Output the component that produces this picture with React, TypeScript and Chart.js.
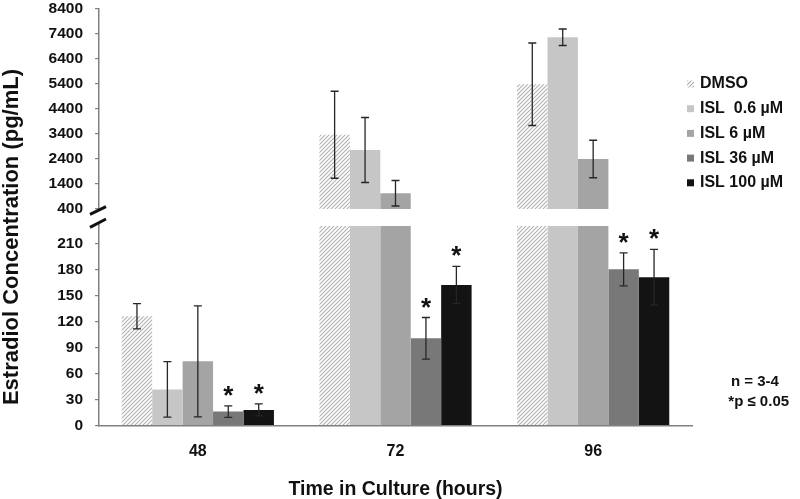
import { useEffect, useRef } from 'react';
import { Chart, registerables } from 'chart.js';

Chart.register(...registerables);

const FONT = 'Liberation Sans, Arial, Helvetica, sans-serif';

const categories = ['48', '72', '96'];
const seriesNames = ['DMSO', 'ISL  0.6 µM', 'ISL 6 µM', 'ISL 36 µM', 'ISL 100 µM'];
const seriesColors = ['hatch', '#c6c6c6', '#a4a4a4', '#787878', '#131313'];

const dmsoValues = [126, 3370, 5390];
const dmsoErrors = [14.5, 1740, 1650];
const isl06Values = [41.6, 2760, 7270];
const isl06Errors = [32, 1300, 330];
const isl6Values = [74, 1030, 2400];
const isl6Errors = [64, 510, 750];
const isl36Values = [16, 100.5, 180];
const isl36Errors = [6.7, 24, 19];
const isl100Values = [18, 162, 171];
const isl100Errors = [7, 21.5, 32];

const dmsoSig = [false, false, false];
const isl06Sig = [false, false, false];
const isl6Sig = [false, false, false];
const isl36Sig = [true, true, true];
const isl100Sig = [true, true, true];

const upperTicks = [400, 1400, 2400, 3400, 4400, 5400, 6400, 7400, 8400];
const lowerTicks = [0, 30, 60, 90, 120, 150, 180, 210];

const UPPER_BASE = 400;
const UPPER_MIN = -280;
const UPPER_MAX = 8400;
const LOWER_MAX = 230;

const allValues = [dmsoValues, isl06Values, isl6Values, isl36Values, isl100Values];
const allErrors = [dmsoErrors, isl06Errors, isl6Errors, isl36Errors, isl100Errors];
const allSig = [dmsoSig, isl06Sig, isl6Sig, isl36Sig, isl100Sig];

function makeHatch(): CanvasPattern | string {
  const c = document.createElement('canvas');
  c.width = 4;
  c.height = 4;
  const g = c.getContext('2d');
  if (!g) return '#ddd';
  g.fillStyle = '#ffffff';
  g.fillRect(0, 0, 4, 4);
  g.strokeStyle = '#b0b0b0';
  g.lineWidth = 1.1;
  g.beginPath();
  g.moveTo(-1, 5);
  g.lineTo(5, -1);
  g.moveTo(-1, 1);
  g.lineTo(1, -1);
  g.moveTo(3, 5);
  g.lineTo(5, 3);
  g.stroke();
  return g.createPattern(c, 'repeat') || '#ddd';
}

export default function App() {
  const ref = useRef<HTMLCanvasElement | null>(null);

  useEffect(() => {
    if (!ref.current) return;
    const hatch = makeHatch();
    const fills = seriesColors.map((c) => (c === 'hatch' ? hatch : c));

    const datasets: any[] = [];
    allValues.forEach((vals, i) => {
      datasets.push({
        label: seriesNames[i],
        data: vals.map((v) => [0, Math.min(v, LOWER_MAX)]),
        yAxisID: 'yLow',
        stack: 's' + i,
        backgroundColor: fills[i],
        borderWidth: 0,
      });
    });
    allValues.forEach((vals, i) => {
      datasets.push({
        label: seriesNames[i] + ' (upper)',
        data: vals.map((v) => (v >= UPPER_BASE ? [UPPER_BASE, v] : null)),
        yAxisID: 'yHigh',
        stack: 's' + i,
        backgroundColor: fills[i],
        borderWidth: 0,
      });
    });

    const overlay = {
      id: 'overlay',
      afterDatasetsDraw(chart: any) {
        const ctx = chart.ctx as CanvasRenderingContext2D;
        const yLow = chart.scales.yLow;
        const yHigh = chart.scales.yHigh;
        ctx.save();
        allValues.forEach((vals, i) => {
          const meta = chart.getDatasetMeta(i);
          vals.forEach((v, j) => {
            const el = meta.data[j];
            if (!el) return;
            const x = el.x;
            const scale = v >= UPPER_BASE ? yHigh : yLow;
            const e = allErrors[i][j];
            const yTop = scale.getPixelForValue(v + e);
            const yBot = scale.getPixelForValue(v - e);
            ctx.strokeStyle = '#262626';
            ctx.lineWidth = 1.3;
            ctx.beginPath();
            ctx.moveTo(x, yTop);
            ctx.lineTo(x, yBot);
            ctx.moveTo(x - 4, yTop);
            ctx.lineTo(x + 4, yTop);
            ctx.moveTo(x - 4, yBot);
            ctx.lineTo(x + 4, yBot);
            ctx.stroke();
            if (allSig[i][j]) {
              ctx.fillStyle = '#111';
              ctx.font = `bold 26px ${FONT}`;
              ctx.textAlign = 'center';
              ctx.textBaseline = 'alphabetic';
              ctx.fillText('*', x, yTop - 2);
            }
          });
        });
        ctx.restore();
      },
      afterDraw(chart: any) {
        const ctx = chart.ctx as CanvasRenderingContext2D;
        const left = chart.chartArea.left;
        const yB = chart.scales.yHigh.getPixelForValue(UPPER_BASE);
        ctx.save();
        // axis break
        ctx.fillStyle = '#ffffff';
        ctx.fillRect(left - 3, yB + 2, 6, 11);
        ctx.strokeStyle = '#111';
        ctx.lineWidth = 3;
        ctx.beginPath();
        ctx.moveTo(left - 9, yB + 5.3);
        ctx.lineTo(left + 7, yB - 2.3);
        ctx.moveTo(left - 9, yB + 18.3);
        ctx.lineTo(left + 7, yB + 10);
        ctx.stroke();

        // y title
        ctx.save();
        ctx.translate(18, 237);
        ctx.rotate(-Math.PI / 2);
        ctx.fillStyle = '#111';
        ctx.font = `bold 22px ${FONT}`;
        ctx.textAlign = 'center';
        ctx.textBaseline = 'alphabetic';
        ctx.fillText('Estradiol Concentration (pg/mL)', 0, 0);
        ctx.restore();

        // legend
        const legendY = [84, 108.7, 133.4, 158.1, 182.8];
        seriesNames.forEach((name, i) => {
          const cy = legendY[i];
          ctx.fillStyle = fills[i] as any;
          ctx.fillRect(687, cy - 3.5, 7, 7);
          ctx.fillStyle = '#111';
          ctx.font = `bold 16px ${FONT}`;
          ctx.textAlign = 'left';
          ctx.textBaseline = 'middle';
          ctx.fillText(name, 700, cy);
        });

        // notes
        ctx.font = `bold 15px ${FONT}`;
        ctx.fillStyle = '#111';
        ctx.textAlign = 'left';
        ctx.textBaseline = 'middle';
        ctx.fillText('n = 3-4', 731, 381.7);
        ctx.fillText('*p ≤ 0.05', 728.3, 401.7);
        ctx.restore();
      },
    };

    const axisColor = '#808080';
    const tickFont = { family: FONT, size: 15.5, weight: 'bold' as const };
    const yTicks = {
      font: tickFont,
      color: '#111',
      padding: 12,
      autoSkip: false,
      callback: (v: any) => String(v),
    };
    const fitY = (s: any) => {
      s.width = 99;
      s.paddingTop = 0;
      s.paddingBottom = 0;
    };

    const chart = new Chart(ref.current, {
      type: 'bar',
      data: { labels: categories, datasets },
      options: {
        animation: false,
        responsive: false,
        layout: { padding: { left: 0, right: 108, top: 9, bottom: 0 } },
        plugins: { legend: { display: false }, tooltip: { enabled: false } },
        datasets: { bar: { categoryPercentage: 0.77, barPercentage: 1.0 } },
        scales: {
          x: {
            type: 'category',
            stacked: true,
            offset: true,
            grid: { display: false, drawTicks: false },
            border: { display: true, color: axisColor, width: 1.5 },
            ticks: { font: { family: FONT, size: 16, weight: 'bold' }, color: '#111', padding: 16 },
            title: {
              display: true,
              text: 'Time in Culture (hours)',
              font: { family: FONT, size: 19.5, weight: 'bold' },
              color: '#111',
              padding: { top: 0, bottom: -2 },
            },
            afterFit: (s: any) => {
              s.height = 73.5;
              s.paddingLeft = 0;
              s.paddingRight = 0;
            },
          },
          yLow: {
            type: 'linear',
            position: 'left',
            stack: 'y',
            stackWeight: 199.5,
            stacked: false,
            min: 0,
            max: LOWER_MAX,
            afterBuildTicks: (s: any) => {
              s.ticks = lowerTicks.map((v) => ({ value: v }));
            },
            grid: { drawOnChartArea: false, drawTicks: true, tickLength: 4, color: axisColor, lineWidth: 1.2 },
            border: { display: true, color: axisColor, width: 1.5 },
            ticks: yTicks,
            afterFit: fitY,
          },
          yHigh: {
            type: 'linear',
            position: 'left',
            stack: 'y',
            stackWeight: 217,
            stacked: false,
            min: UPPER_MIN,
            max: UPPER_MAX,
            afterBuildTicks: (s: any) => {
              s.ticks = upperTicks.map((v) => ({ value: v }));
            },
            grid: { drawOnChartArea: false, drawTicks: true, tickLength: 4, color: axisColor, lineWidth: 1.2 },
            border: { display: true, color: axisColor, width: 1.5 },
            ticks: yTicks,
            afterFit: fitY,
          },
        } as any,
      },
      plugins: [overlay],
    });

    return () => chart.destroy();
  }, []);

  return (
    <canvas
      ref={ref}
      width={800}
      height={499}
      style={{ position: 'fixed', left: 0, top: 0, display: 'block' }}
    />
  );
}
